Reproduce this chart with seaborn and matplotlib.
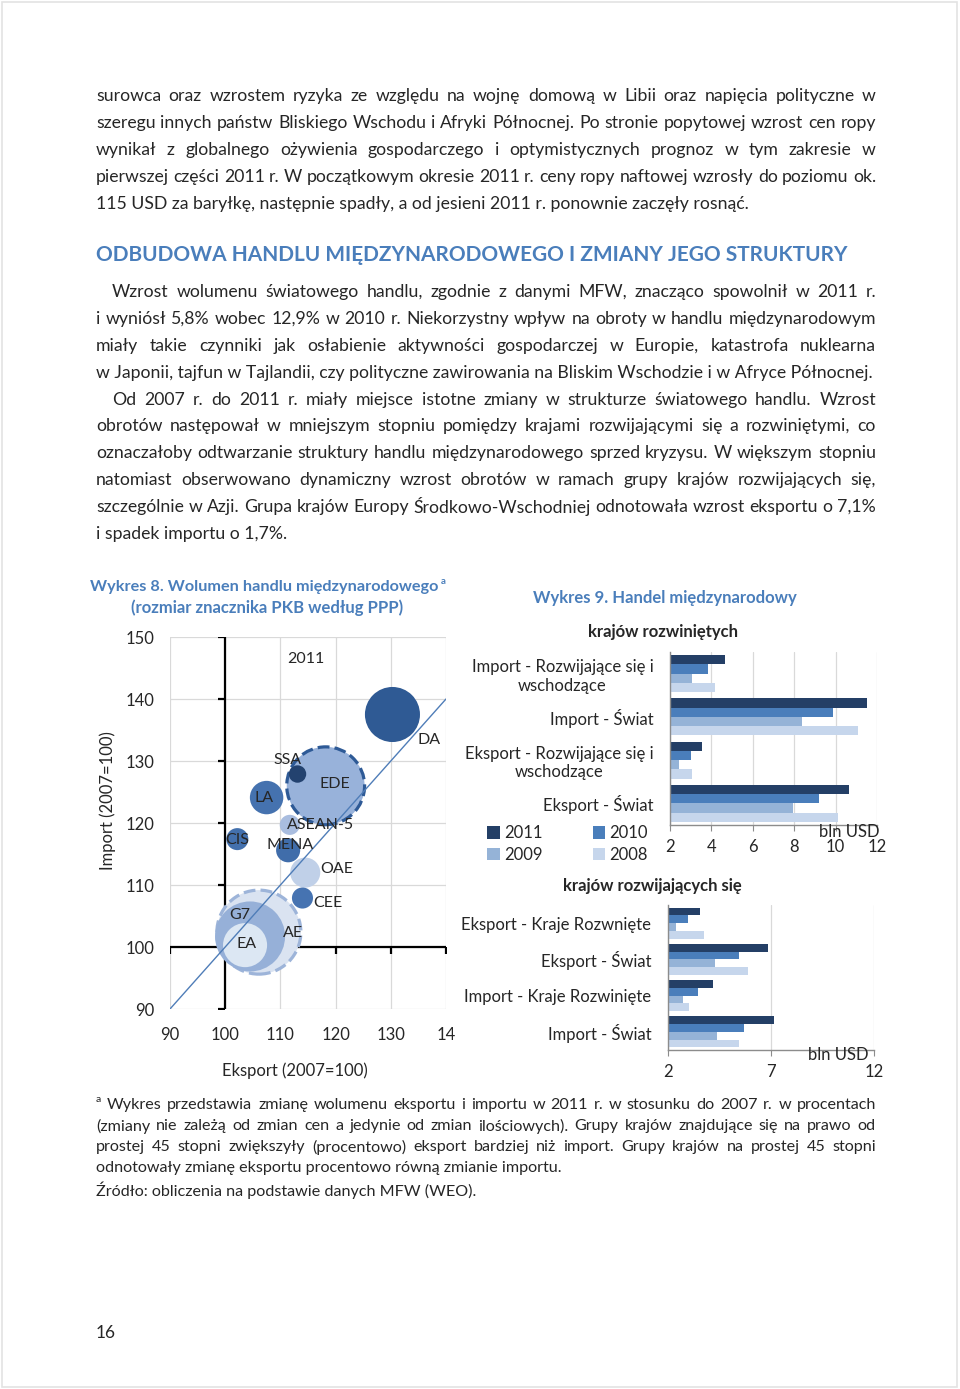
import matplotlib
matplotlib.use("Agg")
import matplotlib.pyplot as plt
import seaborn as sns
import pandas as pd
from matplotlib.patches import Rectangle

# ---- Wykres 8: bubble chart (2011, 2007=100) ----
grupy = ["AE", "G7", "EA", "EDE", "SSA", "ASEAN-5", "LA", "CIS", "MENA", "OAE", "CEE", "DA"]
eksport = [106.1, 104.5, 103.6, 118.2, 113.1, 111.7, 107.5, 102.2, 111.4, 114.5, 114.0, 130.3]
import_ = [102.4, 101.7, 100.3, 126.0, 127.9, 119.7, 124.1, 117.4, 115.6, 112.0, 107.9, 137.5]
pkb = [52.4, 36.4, 14.4, 45.0, 2.25, 3.0, 8.3, 3.6, 4.3, 6.7, 3.3, 22.5]
etykieta_x = [112.2, 102.7, 103.9, 119.8, 111.3, 117.3, 107.0, 102.1, 111.7, 120.2, 118.6, 137.0]
etykieta_y = [102.3, 105.2, 100.5, 126.3, 130.2, 119.7, 124.0, 117.3, 116.5, 112.6, 107.1, 133.4]
x_ticklabels = ["90", "100", "110", "120", "130", "14"]

# ---- Wykres 9: bar charts (bln USD) ----
lata = ["2011", "2010", "2009", "2008"]
rozw_kat = ["Import - Rozwijające się i\nwschodzące", "Import - Świat",
            "Eksport - Rozwijające się i\nwschodzące", "Eksport - Świat"]
rozw_2011 = [4.66, 11.50, 3.55, 10.63]
rozw_2010 = [3.84, 9.86, 3.00, 9.20]
rozw_2009 = [3.07, 8.39, 2.45, 7.95]
rozw_2008 = [4.18, 11.07, 3.05, 10.10]

rozwij_kat = ["Eksport - Kraje Rozwnięte", "Eksport - Świat",
              "Import - Kraje Rozwinięte", "Import - Świat"]
rozwij_2011 = [3.55, 6.86, 4.20, 7.13]
rozwij_2010 = [2.97, 5.45, 3.44, 5.70]
rozwij_2009 = [2.40, 4.27, 2.72, 4.40]
rozwij_2008 = [3.73, 5.90, 3.00, 5.45]

p1 = ["surowca oraz wzrostem ryzyka ze względu na wojnę domową w Libii oraz napięcia polityczne w",
      "szeregu innych państw Bliskiego Wschodu i Afryki Północnej. Po stronie popytowej wzrost cen ropy",
      "wynikał z globalnego ożywienia gospodarczego i optymistycznych prognoz w tym zakresie w",
      "pierwszej części 2011 r. W początkowym okresie 2011 r. ceny ropy naftowej wzrosły do poziomu ok.",
      "115 USD za baryłkę, następnie spadły, a od jesieni 2011 r. ponownie zaczęły rosnąć."]
p2 = ["Wzrost wolumenu światowego handlu, zgodnie z danymi MFW, znacząco spowolnił w 2011 r.",
      "i wyniósł 5,8% wobec 12,9% w 2010 r. Niekorzystny wpływ na obroty w handlu międzynarodowym",
      "miały takie czynniki jak osłabienie aktywności gospodarczej w Europie, katastrofa nuklearna",
      "w Japonii, tajfun w Tajlandii, czy polityczne zawirowania na Bliskim Wschodzie i w Afryce Północnej."]
p3 = ["Od 2007 r. do 2011 r. miały miejsce istotne zmiany w strukturze światowego handlu. Wzrost",
      "obrotów następował w mniejszym stopniu pomiędzy krajami rozwijającymi się a rozwiniętymi, co",
      "oznaczałoby odtwarzanie struktury handlu międzynarodowego sprzed kryzysu. W większym stopniu",
      "natomiast obserwowano dynamiczny wzrost obrotów w ramach grupy krajów rozwijających się,",
      "szczególnie w Azji. Grupa krajów Europy Środkowo-Wschodniej odnotowała wzrost eksportu o 7,1%",
      "i spadek importu o 1,7%."]
przypis = ["Wykres przedstawia zmianę wolumenu eksportu i importu w 2011 r. w stosunku do 2007 r. w procentach",
           "(zmiany nie zależą od zmian cen a jedynie od zmian ilościowych). Grupy krajów znajdujące się na prawo od",
           "prostej 45 stopni zwiększyły (procentowo) eksport bardziej niż import. Grupy krajów na prostej 45 stopni",
           "odnotowały zmianę eksportu procentowo równą zmianie importu.",
           "Źródło: obliczenia na podstawie danych MFW (WEO)."]

sns.set_style("white")
plt.rcParams["font.family"] = ["Lato", "DejaVu Sans"]

BLUE = "#4A7EBB"
W, H = 960, 1389
fig = plt.figure(figsize=(9.6, 13.89), dpi=100)
rend = fig.canvas.get_renderer()
fig.patches.append(Rectangle((2 / W, 2 / H), 955 / W, 1 - 4 / H, transform=fig.transFigure,
                             fill=False, edgecolor="#E3E3E3", lw=1.2))


def fx(x):
    return x / W


def fy(y):
    return 1 - y / H


def put(s, x, y, size, ha="left", **kw):
    return fig.text(fx(x), fy(y), s, fontsize=size, ha=ha, va="center", **kw)


def width(t):
    return t.get_window_extent(renderer=rend).width


def fit(s, x0, x1, y, size, **kw):
    t = put(s, x0, y, size, **kw)
    t.set_fontsize(size * (x1 - x0) / width(t))
    return t


def justify(s, x0, x1, y, size, last=False, **kw):
    if last:
        return put(s, x0, y, size, **kw)
    words = s.split(" ")
    arts = [put(w, x0, y, size, **kw) for w in words]
    ws = [width(a) for a in arts]
    gap = (x1 - x0 - sum(ws)) / (len(words) - 1)
    if gap < 2.5:
        k = (x1 - x0 - 2.5 * (len(words) - 1)) / sum(ws)
        for a in arts:
            a.set_fontsize(size * k)
        ws = [width(a) for a in arts]
        gap = (x1 - x0 - sum(ws)) / (len(words) - 1)
    x = x0
    for a, w in zip(arts, ws):
        a.set_x(fx(x))
        x += w + gap


BODY = 12.7
for i, (line, y) in enumerate(zip(p1, [96, 123, 150, 177, 204])):
    justify(line, 96, 876, y, BODY, last=(i == len(p1) - 1))
fit("ODBUDOWA HANDLU MIĘDZYNARODOWEGO I ZMIANY JEGO STRUKTURY", 96, 850, 255, 15,
    color=BLUE, fontweight="bold")
for i, (line, y) in enumerate(zip(p2, [292, 319, 346, 373])):
    justify(line, 112 if i == 0 else 96, 876, y, BODY, last=(i == len(p2) - 1))
for i, (line, y) in enumerate(zip(p3, [400, 426, 453, 480, 507, 534])):
    justify(line, 112 if i == 0 else 96, 876, y, BODY, last=(i == len(p3) - 1))

put("a", 96, 1099, 7.5)
for i, (line, y) in enumerate(zip(przypis, [1105, 1126, 1147, 1168, 1190])):
    justify(line, 107 if i == 0 else 96, 876, y, 11.6, last=(i >= 3))
put("16", 96, 1333, 12.5)

# chart titles
fit("Wykres 8. Wolumen handlu międzynarodowego", 90, 438, 587, 12, color=BLUE, fontweight="bold")
put("a", 441, 581, 7, color=BLUE, fontweight="bold")
put("(rozmiar znacznika PKB według PPP)", 267, 608, 12, ha="center", color=BLUE, fontweight="bold")
put("Wykres 9. Handel międzynarodowy", 665, 598, 12, ha="center", color=BLUE, fontweight="bold")

# ---- bubble chart ----
ax = fig.add_axes([fx(170), fy(1009), 276 / W, 372 / H])
df = pd.DataFrame({"grupa": grupy, "eksport": eksport, "import": import_, "pkb": pkb})
kolory = {"AE": "#DAE3F1", "G7": "#96B0D8", "EA": "#DCE7F3", "EDE": "#98B2DA", "SSA": "#23426F",
          "ASEAN-5": "#A9BDDF", "LA": "#4572AF", "CIS": "#4370AD", "MENA": "#406DAA",
          "OAE": "#C0D0E8", "CEE": "#4673B1", "DA": "#2F5A94"}
krawedz = ["#9DB4D9", "none", "none", "#2E5A96"] + ["none"] * 8
grubosc = [2.3, 0, 0, 2.3] + [0] * 8
styl = ["--", "-", "-", "--"] + ["-"] * 8
sns.scatterplot(data=df, x="eksport", y="import", hue="grupa", palette=kolory, size="pkb",
                sizes=(0, 3660), size_norm=(0, 52.4), legend=False, ax=ax,
                edgecolor=krawedz, linewidth=grubosc, linestyle=styl, alpha=1, zorder=3)
ax.axline((90, 90), slope=1, color="#4F7DB8", lw=1.0, zorder=5)
for g, lx, ly in zip(grupy, etykieta_x, etykieta_y):
    ax.text(lx, ly, g, ha="center", va="center", fontsize=11.5, zorder=6)
ax.text(114.6, 146.5, "2011", ha="center", va="center", fontsize=11.5)
ax.set_xlim(90, 140)
ax.set_ylim(90, 150)
ax.set_xticks(range(90, 141, 10))
ax.set_xticklabels(x_ticklabels)
ax.set_yticks(range(90, 151, 10))
ax.grid(True, color="#D9D9D9", lw=0.9, zorder=0)
ax.set_axisbelow(True)
for s in ax.spines.values():
    s.set_visible(False)
ax.tick_params(length=0, labelsize=12)
ax.tick_params(axis="y", pad=11)
ax.tick_params(axis="x", pad=13)
ax.axvline(100, color="black", lw=1.6, zorder=2)
ax.axhline(100, color="black", lw=1.6, zorder=2)
ax.plot([100] * 7, list(range(90, 151, 10)), ls="none", marker=0, ms=5, mew=1.6, color="black", zorder=2)
ax.plot(list(range(90, 141, 10)), [100] * 6, ls="none", marker=3, ms=5, mew=1.6, color="black", zorder=2)
ax.set_xlabel("")
ax.set_ylabel("")
put("Eksport (2007=100)", 295, 1071, 12, ha="center")
put("Import (2007=100)", 108, 801, 12, ha="center", rotation=90)

# ---- bar charts ----
paleta = {"2011": "#243F66", "2010": "#4A7EBB", "2009": "#95B3D7", "2008": "#C6D6EC"}


def bars(rect, kat, vals, ticks, title, title_xy, unit_xy):
    rows = []
    for rok, v in zip(lata, vals):
        for k, x in zip(kat, v):
            rows.append({"kat": k, "rok": rok, "wartosc": x})
    d = pd.DataFrame(rows)
    a = fig.add_axes(rect)
    sns.barplot(data=d, y="kat", x="wartosc", hue="rok", hue_order=lata, order=kat, palette=paleta,
                orient="h", width=0.86, saturation=1, ax=a, linewidth=0)
    a.set_xlim(2, 12)
    a.set_xticks(ticks)
    a.set_xticklabels([str(t) for t in ticks])
    a.set_ylim(3.5, -0.5)
    a.set_yticks(range(len(kat)))
    a.set_yticklabels(kat, multialignment="center")
    a.set_yticks([i - 0.5 for i in range(len(kat) + 1)], minor=True)
    a.tick_params(axis="y", which="major", length=0, pad=12, labelsize=12)
    a.tick_params(axis="y", which="minor", length=5, color="#8C8C8C", width=1)
    a.tick_params(axis="x", length=4, color="#8C8C8C", pad=6, labelsize=12, bottom=True)
    a.grid(True, axis="x", color="#D9D9D9", lw=0.9)
    a.set_axisbelow(True)
    for s in ["top", "right"]:
        a.spines[s].set_visible(False)
    for s in ["left", "bottom"]:
        a.spines[s].set_color("#8C8C8C")
        a.spines[s].set_linewidth(1)
    a.set_xlabel("")
    a.set_ylabel("")
    put(title, title_xy[0], title_xy[1], 12, ha="center", fontweight="bold")
    put("bln USD", unit_xy[0], unit_xy[1], 12, ha="center")
    return a


ax1 = bars([fx(670), fy(825), 207 / W, 173 / H], rozw_kat,
           [rozw_2011, rozw_2010, rozw_2009, rozw_2008], [2, 4, 6, 8, 10, 12],
           "krajów rozwiniętych", (663, 632), (849, 832))
h, l = ax1.get_legend_handles_labels()
ax1.legend([h[0], h[2], h[1], h[3]], [l[0], l[2], l[1], l[3]], ncol=2, frameon=False,
           loc="upper left", bbox_to_anchor=(fx(474), fy(812)), bbox_transform=fig.transFigure,
           fontsize=12, handlelength=0.75, handleheight=0.75, handletextpad=0.25,
           columnspacing=3.0, labelspacing=0.35, borderpad=0.3)
ax2 = bars([fx(668), fy(1050), 206 / W, 145 / H], rozwij_kat,
           [rozwij_2011, rozwij_2010, rozwij_2009, rozwij_2008], [2, 7, 12],
           "krajów rozwijających się", (652, 886), (838, 1055))
ax2.get_legend().remove()

fig.savefig("out.png", dpi=100)
